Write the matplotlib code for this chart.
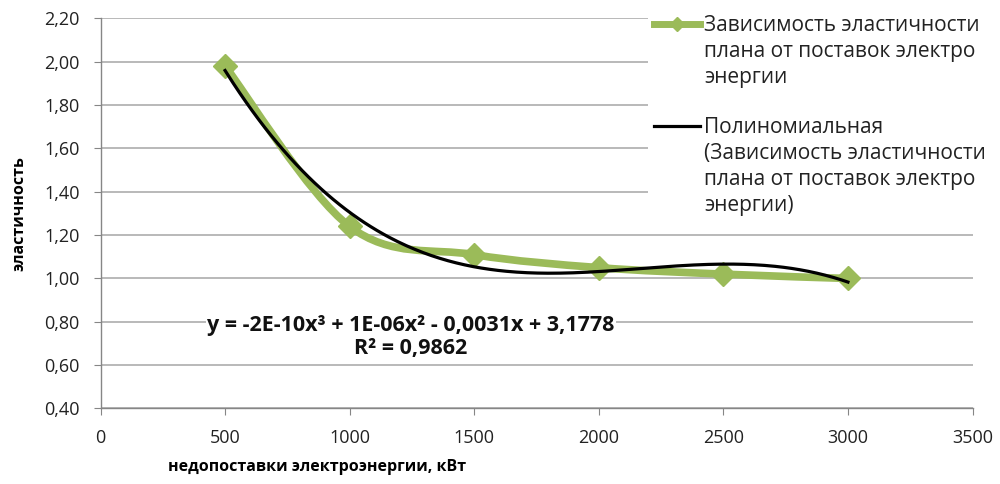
import matplotlib
matplotlib.use("Agg")
import matplotlib.pyplot as plt
import numpy as np
from matplotlib.path import Path
from matplotlib.patches import PathPatch
from matplotlib.lines import Line2D
from matplotlib.ticker import FuncFormatter, MultipleLocator

plt.rcParams['font.family'] = ['Open Sans', 'Noto Sans', 'DejaVu Sans']

# недопоставки электроэнергии, кВт и эластичность плана
shortfall_kw = [500, 1000, 1500, 2000, 2500, 3000]
elasticity = [1.98, 1.24, 1.11, 1.05, 1.02, 1.00]

series_label = ["Зависимость эластичности", "плана от поставок электро", "энергии"]
trend_label = ["Полиномиальная", "(Зависимость эластичности", "плана от поставок электро", "энергии)"]
equation_text = "y = -2E-10x³ + 1E-06x² - 0,0031x + 3,1778\nR² = 0,9862"

green = '#9BBB59'
grid_gray = '#B3B3B3'
axis_gray = '#868686'

fig = plt.figure(figsize=(10, 4.84), dpi=100)
ax = fig.add_axes([0.1005, 0.156, 0.872, 0.806])

# сглаженная линия (кривые Безье через точки, как в Excel)
pts = np.column_stack([shortfall_kw, elasticity]).astype(float)
ext = np.vstack([pts[0], pts, pts[-1]])
verts = [pts[0]]
codes = [Path.MOVETO]
for i in range(len(pts) - 1):
    p0, p1, p2, p3 = ext[i], ext[i + 1], ext[i + 2], ext[i + 3]
    c1 = p1 + (p2 - p0) / 6.0
    c2 = p2 - (p3 - p1) / 6.0
    verts += [c1, c2, p2]
    codes += [Path.CURVE4] * 3
ax.add_patch(PathPatch(Path(verts, codes), facecolor='none', edgecolor=green,
                       lw=5.5, capstyle='round', joinstyle='round', zorder=3))
ax.plot(shortfall_kw, elasticity, linestyle='none', marker='D', ms=12,
        color=green, zorder=4)

# полиномиальный тренд 3-й степени
coef = np.polyfit(shortfall_kw, elasticity, 3)
xs = np.linspace(shortfall_kw[0], shortfall_kw[-1], 300)
ax.plot(xs, np.polyval(coef, xs), color='black', lw=2.3, zorder=5)

ax.text(1245, 0.730, equation_text, ha='center', va='center', multialignment='center',
        fontsize=15.5, fontweight='bold', linespacing=1.15, color='#111111',
        bbox=dict(facecolor='white', edgecolor='none', pad=1), zorder=6)

ax.set_xlim(0, 3500)
ax.set_ylim(0.4, 2.2)
ax.xaxis.set_major_locator(MultipleLocator(500))
ax.yaxis.set_major_locator(MultipleLocator(0.2))
ax.yaxis.set_major_formatter(FuncFormatter(lambda v, p: f"{v:.2f}".replace('.', ',')))
ax.grid(axis='y', color=grid_gray, lw=1.3)
ax.set_axisbelow(True)
for s in ['top', 'right']:
    ax.spines[s].set_visible(False)
for s in ['left', 'bottom']:
    ax.spines[s].set_color(axis_gray)
    ax.spines[s].set_linewidth(1.0)
ax.tick_params(axis='both', direction='out', length=5, color=axis_gray,
               labelsize=13, labelcolor='#222222')
ax.tick_params(axis='y', pad=10)
ax.tick_params(axis='x', pad=10)

ax.set_ylabel("эластичность", fontsize=11.5, fontweight='bold', labelpad=12)
fig.text(0.317, 0.035, "недопоставки электроэнергии, кВт", ha='center', va='center',
         fontsize=11.5, fontweight='bold')

# легенда: каждая строка подписи отдельной записью
blank = Line2D([], [], linestyle='none')
series_handle = Line2D([], [], color=green, lw=5, marker='D', ms=7)
trend_handle = Line2D([], [], color='black', lw=2.3)
handles = [series_handle, blank, blank, blank, trend_handle, blank, blank, blank]
labels = series_label + [" "] + trend_label
leg = fig.legend(handles, labels, loc='upper left', bbox_to_anchor=(0.648, 0.981),
                 fontsize=15, frameon=True, fancybox=False, edgecolor='none',
                 facecolor='white', framealpha=1, handlelength=2.2, handletextpad=0.2,
                 labelspacing=0.24, borderpad=0.3, borderaxespad=0)
for t in leg.get_texts():
    t.set_color('#222222')
# пустая строка-разделитель между записями пониже
leg.get_texts()[3].set_fontsize(10)

fig.savefig("out.png", dpi=100)
